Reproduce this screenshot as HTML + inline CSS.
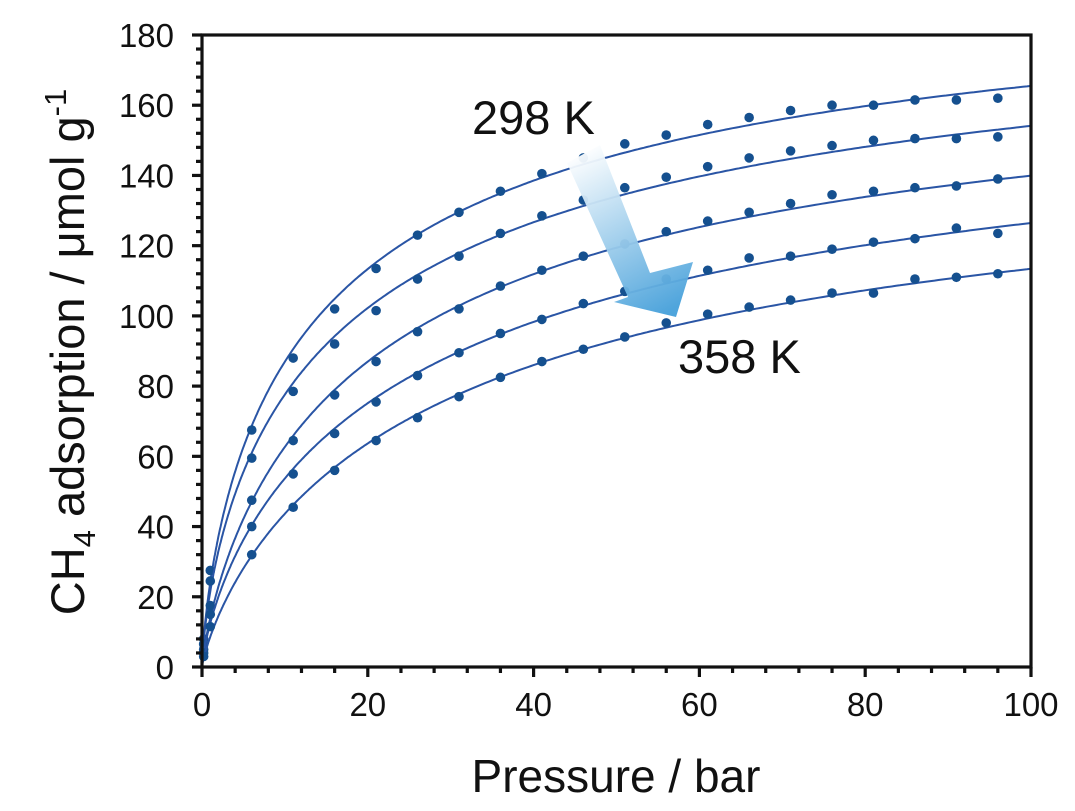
<!DOCTYPE html>
<html><head><meta charset="utf-8"><style>
html,body{margin:0;padding:0;background:#fff;}
svg{display:block;font-family:"Liberation Sans",Arial,sans-serif;}
</style></head><body>
<svg id="s" width="1075" height="811" viewBox="0 0 1075 811">
<defs>
<linearGradient id="g" x1="583" y1="150" x2="670" y2="310" gradientUnits="userSpaceOnUse">
<stop offset="0" stop-color="#ffffff"/><stop offset="1" stop-color="#46a0da"/>
</linearGradient>
</defs>
<g id="curves"></g>
<polygon points="567,163 600,145 650,273 693,262 676,317 614,302 628,297" fill="url(#g)" opacity="0.95"/>
<g id="axes" stroke="#111" stroke-width="3.2" fill="none"></g>
<g id="labels" font-size="33" fill="#111"></g>
<text x="472" y="134" font-size="47" fill="#111">298 K</text>
<text x="678" y="373" font-size="47" fill="#111">358 K</text>
<text x="616" y="792" font-size="46" fill="#111" text-anchor="middle">Pressure / bar</text>
<text transform="translate(84,352) rotate(-90)" font-size="47" fill="#111" text-anchor="middle">CH<tspan font-size="31" dy="11">4</tspan><tspan dy="-11"> adsorption / μmol g</tspan><tspan font-size="31" dy="-18">-1</tspan></text>
</svg>
<script>
var X0=202,X1=1031,Y0=667,Y1=35;
function px(p){return X0+(X1-X0)*p/100;}
function py(v){return Y0-(Y0-Y1)*v/180;}
var ns="http://www.w3.org/2000/svg";
function el(t,a,par){var e=document.createElementNS(ns,t);for(var k in a)e.setAttribute(k,a[k]);par.appendChild(e);return e;}
var ax=document.getElementById('axes'),lb=document.getElementById('labels');
el('rect',{x:X0,y:Y1,width:X1-X0,height:Y0-Y1},ax);
for(var v=0;v<=180;v+=4){var m=v%20==0;el('line',{x1:X0,x2:X0-(m?10:6),y1:py(v),y2:py(v)},ax);
 if(m){var t=el('text',{x:174,y:py(v)+12,'text-anchor':'end'},lb);t.textContent=v;}}
for(var p=0;p<=100;p+=4){var m=p%20==0;el('line',{y1:Y0,y2:Y0+(m?10:6),x1:px(p),x2:px(p)},ax);
 if(m){var t=el('text',{x:px(p),y:716,'text-anchor':'middle'},lb);t.textContent=p;}}
var P=[1,6,11,16,21,26,31,36,41,46,51,56,61,66,71,76,81,86,91,96];
var D=[
[27.5,67.5,88,102,113.5,123,129.5,135.5,140.5,145,149,151.5,154.5,156.5,158.5,160,160,161.5,161.5,162],
[24.5,59.5,78.5,92,101.5,110.5,117,123.5,128.5,133,136.5,139.5,142.5,145,147,148.5,150,150.5,150.5,151],
[17.5,47.5,64.5,77.5,87,95.5,102,108.5,113,117,120.5,124,127,129.5,132,134.5,135.5,136.5,137,139],
[15,40,55,66.5,75.5,83,89.5,95,99,103.5,107,110.5,113,116.5,117,119,121,122,125,123.5],
[11.5,32,45.5,56,64.5,71,77,82.5,87,90.5,94,98,100.5,102.5,104.5,106.5,106.5,110.5,111,112]];
var END=[164.5,153,139,126,113];
var D0=[8,6.5,5,4,3];
var cg=document.getElementById('curves');
D.forEach(function(d,i){
 var PP=P.concat([100]),DD=d.concat([END[i]]),W=P.map(function(){return 1;}).concat([6]);
 var best=null;
 for(var n=0.4;n<=1.2;n+=0.02)for(var lb2=-4;lb2<=0;lb2+=0.04){var b=Math.pow(10,lb2);
  var sxy=0,sxx=0,f=[];for(var j=0;j<PP.length;j++){var z=b*Math.pow(PP[j],n);f[j]=z/(1+z);sxy+=W[j]*f[j]*DD[j];sxx+=W[j]*f[j]*f[j];}
  var q=sxy/sxx,e=0;for(var j=0;j<PP.length;j++){var r=q*f[j]-DD[j];e+=W[j]*r*r;}
  if(!best||e<best[0])best=[e,q,b,n];}
 var pts=[];for(var k=0;k<=400;k++){var p=100*Math.pow(k/400,2);var z=best[2]*Math.pow(p,best[3]);pts.push(px(p).toFixed(1)+','+py(best[1]*z/(1+z)).toFixed(1));}
 el('polyline',{points:pts.join(' '),fill:'none',stroke:'#2a55a5','stroke-width':2},cg);
 for(var j=0;j<P.length;j++)el('circle',{cx:px(P[j]),cy:py(d[j]),r:4.8,fill:'#15508f'},cg);
 el('circle',{cx:px(0.2),cy:py(D0[i]),r:4.8,fill:'#15508f'},cg);
});
</script>
</body></html>
